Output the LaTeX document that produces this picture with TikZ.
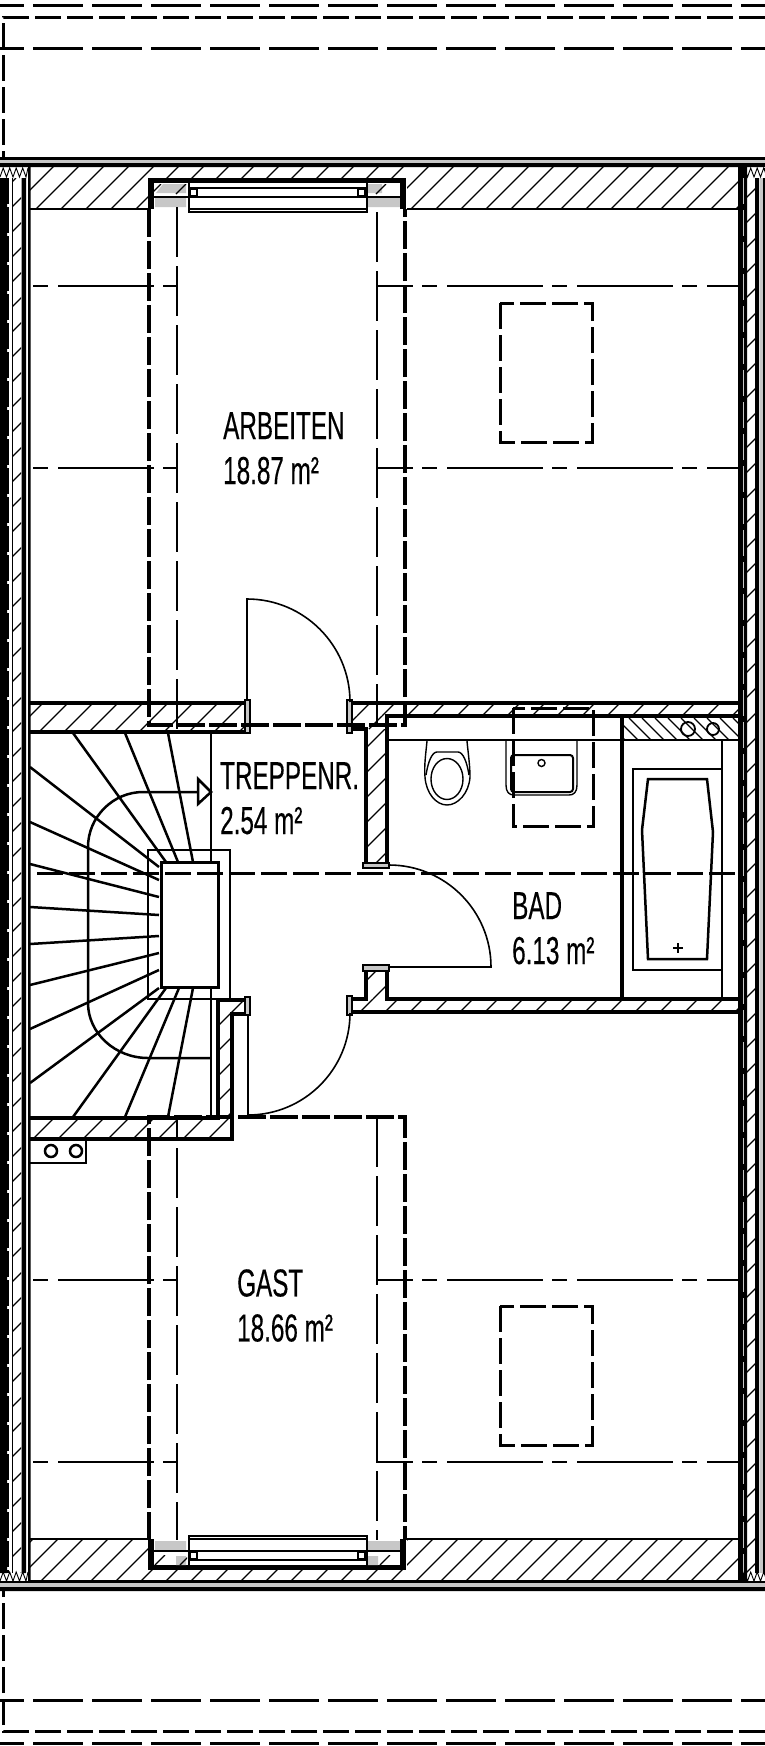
\documentclass[tikz,border=0pt]{standalone}
\usepackage{fontspec}
\newfontfamily\planfont[FakeStretch=0.622,FakeBold=0.3]{Liberation Sans}
% hatch: x1,y1,x2,y2,phase
\newcommand{\hatchbox}[5]{%
	\begin{scope}
		\clip (#1,#2) rectangle (#3,#4);
		\pgfmathtruncatemacro{\kmin}{(#1+#2-#5)/25-1}
		\pgfmathtruncatemacro{\kmax}{(#3+#4-#5)/25+1}
		\foreach \k in {\kmin,...,\kmax}
			\draw[hatchline] ({#5+25*\k-#4},#4)--({#5+25*\k-#2},#2);
	\end{scope}}
\newcommand{\windowunit}{%
	\fill[white] (148,178) rectangle (407,212);
	\fill[wallgray] (155,198) rectangle (186,207) (368,198) rectangle (400,207);
	\draw[line width=5pt] (149,180.5)--(405,180.5);
	\draw[line width=6pt] (151,178)--(151,209);
	\draw[line width=6pt] (403,178)--(403,209);
	\draw[line width=2.5pt] (148,197)--(189,197) (367,197)--(405,197);
	\draw[line width=2.8pt] (189,178)--(189,212)--(367,212)--(367,178);
	\draw[line width=2.2pt] (189,188)--(367,188) (189,197)--(367,197);
	\draw[line width=1.3pt] (189,209)--(367,209);
	\draw[line width=1.6pt] (190,189) rectangle (197,196) (358,189) rectangle (365,196);}
\newcommand{\zigzag}[3]{%
	\draw[line width=.9pt] (#1,#3+9) \foreach \i in {0,...,3} { -- (#1+3.2+6.5*\i,#3) -- (#1+6.5+6.5*\i,#3+9)} -- (#2,#3);}
\begin{document}
\begin{tikzpicture}[x=1pt,y=-1pt,line join=miter,
	hatchline/.style={line width=1.2pt},
	thinline/.style={line width=1.6pt},
	wallline/.style={line width=3.3pt},
	thickdash/.style={line width=4pt,dash pattern=on 28pt off 4pt},
	longdash/.style={line width=3pt,dash pattern=on 50pt off 9pt},
	shortdash/.style={line width=3pt,dash pattern=on 26pt off 6pt},
	axisdash/.style={line width=1.4pt,dash pattern=on 50pt off 9pt},
	ridgeleft/.style={line width=2pt,dash pattern=on 15pt off 10pt on 96pt off 9pt},
	ridgeright/.style={line width=2pt,dash pattern=on 96pt off 9pt on 15pt off 10pt,dash phase=59pt},
	jamb/.style={line width=1.6pt,fill=wallgray},
	stairline/.style={line width=2.5pt},
	roomlabel/.style={font=\planfont\fontsize{39}{45}\selectfont,align=left,anchor=north west,inner sep=0pt}]
	\colorlet{wallgray}{black!22}
	\useasboundingbox (0,0) rectangle (765,1746);
	\fill[white] (0,0) rectangle (765,1746);
	% roof outline
	\draw[longdash,dash phase=26pt] (0,5.5)--(765,5.5);
	\draw[longdash,dash phase=26pt] (0,48.5)--(765,48.5);
	\draw[shortdash] (765,17)--(3,17)--(3,165);
	\draw[longdash,dash phase=26pt] (0,1700)--(765,1700);
	\draw[longdash,dash phase=26pt] (0,1743)--(765,1743);
	\draw[shortdash] (765,1731)--(3,1731)--(3,1590);
	\fill (0,157) rectangle (765,160) (0,163) rectangle (765,167);
	\fill[wallgray] (0,160) rectangle (765,163);
	\fill (0,1581) rectangle (765,1583) (0,1587) rectangle (765,1591);
	\fill[wallgray] (0,1583) rectangle (765,1587);
	% hatched walls
	\hatchbox{30}{166}{738}{209}{20}
	\hatchbox{30}{1539}{738}{1581}{22}
	\hatchbox{30}{703}{245}{732}{21}
	\hatchbox{352}{703}{738}{716}{23}
	\hatchbox{352}{716}{387}{729}{23}
	\hatchbox{366}{729}{387}{865}{14}
	\hatchbox{352}{999}{738}{1012}{22}
	\hatchbox{366}{968}{387}{999}{22}
	\hatchbox{30}{1118}{232}{1139}{22}
	\hatchbox{218}{1000}{232}{1118}{19}
	\hatchbox{232}{1000}{245}{1014}{19}
	\hatchbox{13}{178}{21}{1573}{19}
	\hatchbox{747}{178}{755}{1573}{19}
	\draw[line width=2pt] (30,166)--(738,166);
	\draw[line width=2.4pt] (30,209)--(738,209);
	\draw[line width=2.4pt] (30,1539)--(738,1539);
	\draw[line width=2pt] (30,1581)--(738,1581);
	% windows
	\windowunit
	\begin{scope}[shift={(0,1748)},yscale=-1]
		\windowunit
	\end{scope}
	\fill[wallgray] (156,193)--(163,184)--(186,184)--(186,193)--cycle (368,184) rectangle (382,193);
	\hatchbox{154}{184}{187}{194}{20}
	\hatchbox{368}{184}{400}{194}{20}
	\fill[wallgray] (176,1556) rectangle (186,1565) (368,1556) rectangle (378,1565);
	\hatchbox{154}{1555}{187}{1565}{20}
	\hatchbox{368}{1555}{400}{1565}{20}
	% side walls
	\fill (0,178) rectangle (7,1573) (21.5,178) rectangle (26,1573) (28,166) rectangle (30.5,1581);
	\fill (738,166) rectangle (747,1581) (755,178) rectangle (759,1573) (763,178) rectangle (765,1573);
	\draw[wallgray,line width=1pt,dash pattern=on 26pt off 6pt] (743,178)--(743,1573);
	\draw[wallgray,line width=3pt] (761,178)--(761,1573);
	\draw[thinline] (12.5,178)--(12.5,1573);
	\draw[thinline,dash pattern=on 26pt off 3pt] (8,178)--(8,1573);
	\zigzag{0}{28}{168}
	\zigzag{741}{765}{168}
	\zigzag{0}{28}{1572}
	\zigzag{741}{765}{1572}
	% inner walls
	\draw[wallline] (30,703)--(245,703);
	\draw[wallline] (30,732)--(245,732);
	\draw[wallline] (352,703)--(738,703);
	\draw[wallline] (352,729)--(366,729)--(366,865);
	\draw[wallline] (387,865)--(387,716)--(738,716);
	\draw[wallline] (352,1012)--(738,1012);
	\draw[wallline] (352,999)--(366,999)--(366,968);
	\draw[wallline] (387,968)--(387,999)--(738,999);
	\draw[wallline] (218,1000)--(245,1000);
	\draw[wallline] (218,1000)--(218,1118);
	\draw[line width=4pt] (30,1118)--(220,1118);
	\draw[wallline] (245,1014)--(232,1014)--(232,1139)--(30,1139);
	\draw[jamb] (245,700) rectangle (250,733);
	\draw[jamb] (347,700) rectangle (352,733);
	\draw[jamb] (245,997) rectangle (250,1015);
	\draw[jamb] (347,996) rectangle (352,1015);
	\draw[jamb] (363,863) rectangle (389,868);
	\draw[jamb] (363,965) rectangle (389,971);
	% room outlines
	\draw[axisdash] (177,207)--(177,732);
	\draw[axisdash] (377,212)--(377,725);
	\draw[axisdash] (177,1118)--(177,1139) (177,1148)--(177,1540);
	\draw[axisdash] (377,1117)--(377,1540);
	\foreach \yy in {286,468,1280,1462} {
		\draw[ridgeleft] (33,\yy)--(178,\yy);
		\draw[ridgeright] (376,\yy)--(738,\yy);
	}
	\draw[thickdash] (149,209)--(149,725)--(405,725)--(405,209);
	\draw[thickdash] (149,1540)--(149,1117)--(405,1117)--(405,1540);
	\draw[shortdash] (500,303) rectangle (592,442);
	\draw[shortdash] (500,1306) rectangle (592,1445);
	% doors
	\draw[thinline] (247,700)--(247,599) arc (-90:0:103);
	\draw[thinline] (248,1015)--(248,1115) arc (90:0:102);
	\draw[thinline] (389,967)--(491,967) arc (0:-90:102);
	% stair
	\draw[stairline] (148,850) rectangle (230,999);
	\foreach \ax/\ay/\bx/\by in {73/733/166/862,125/733/178/862,168/733/193/862,30/767/159/867,30/822/159/880,30/864/159/897,30/907/159/915,30/944/159/936,30/985/159/953,30/1029/159/970,30/1083/159/988,73/1117/166/988,125/1117/179/988,168/1117/193/988}
		\draw[stairline] (\ax,\ay)--(\bx,\by);
	\draw[stairline] (211,732)--(211,862) (211,987)--(211,1118);
	\draw[line width=3pt,fill=white] (161,862) rectangle (218,987);
	\draw[stairline] (211,1058)--(148,1058) .. controls (115,1058) and (88,1033) .. (88,1003)--(88,847) .. controls (88,817) and (113,792) .. (143,792)--(198,792);
	\draw[stairline] (198,779)--(211,792)--(198,804)--cycle;
	% shaft
	\draw[stairline] (30,1163)--(86,1163)--(86,1139);
	\draw[stairline] (51,1151) circle (6) (76,1151) circle (6);
	% bathroom
	\draw[line width=2pt] (387,740)--(738,740);
	\draw[wallline] (622,716)--(622,999);
	\begin{scope}
		\clip (622,718) rectangle (738,739);
		\foreach \x in {590,603,...,740}
			\draw[hatchline] (\x,718)--(\x+22,740);
	\end{scope}
	\draw[line width=1.8pt] (688,729) circle (7) (713,729) circle (6);
	\draw[line width=2.5pt] (722,740)--(722,999);
	\draw[stairline] (722,769)--(633,769)--(633,970)--(722,970);
	\draw[stairline] (648,779)--(707,779)--(713,832)--(707,959)--(648,959)--(642,830)--cycle;
	\draw[line width=1.8pt] (673,948)--(683,948) (678,943)--(678,953);
	\draw[line width=1.4pt] (427,741) .. controls (426,752) and (424,765) .. (425,777) .. controls (426,793) and (436,805) .. (447,805) .. controls (458,805) and (469,793) .. (470,777) .. controls (470,765) and (468,752) .. (467,741);
	\draw[line width=1.4pt] (426,775) .. controls (428,762) and (432,752) .. (437,752)--(458,752) .. controls (463,752) and (467,762) .. (469,775);
	\draw[line width=1.4pt] (447,779) ellipse (16 and 20.5);
	\draw[line width=1.4pt] (506,741)--(506,785) .. controls (506,792) and (509,795) .. (514,795)--(569,795) .. controls (574,795) and (577,792) .. (577,785)--(577,741);
	\draw[line width=2pt,rounded corners=3pt] (511,755) rectangle (573,792);
	\draw[line width=1.4pt] (541.5,763) circle (3.5);
	\draw[shortdash] (513,708) rectangle (593,826);
	% mid roof line
	\draw[shortdash] (37,873.7)--(735,873.7);
	% labels
	\node[roomlabel] (arbeiten) at (223,412) {ARBEITEN\\18.87 m²};
	\node[roomlabel] (treppe) at (220,762) {TREPPENR.\\2.54 m²};
	\node[roomlabel] (bad) at (512,892) {BAD\\6.13 m²};
	\node[roomlabel] (gast) at (237,1269) {GAST\\18.66 m²};
\end{tikzpicture}
\end{document}
